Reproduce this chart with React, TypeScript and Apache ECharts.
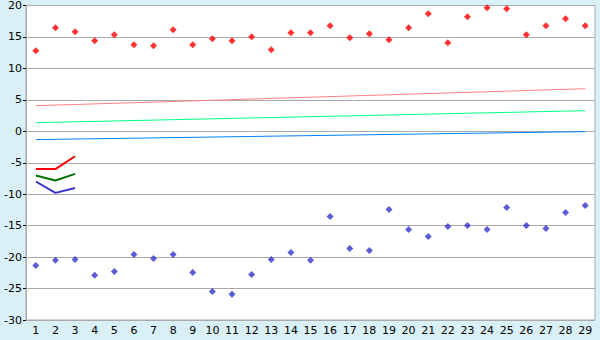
import React, { useEffect, useRef } from "react";
import * as echarts from "echarts";

const categories = Array.from({ length: 29 }, (_, i) => String(i + 1));

const redPoints = [12.8, 16.46, 15.82, 14.39, 15.34, 13.76, 13.6, 16.14, 13.76, 14.71, 14.39, 15.03, 12.97, 15.66, 15.66, 16.77, 14.87, 15.5, 14.55, 16.46, 18.68, 14.07, 18.2, 19.63, 19.47, 15.34, 16.77, 17.88, 16.77];
const bluePoints = [-21.32, -20.52, -20.37, -22.9, -22.27, -19.58, -20.21, -19.58, -22.43, -25.45, -25.92, -22.75, -20.37, -19.26, -20.52, -13.55, -18.62, -18.94, -12.43, -15.61, -16.71, -15.13, -14.97, -15.61, -12.11, -14.97, -15.45, -12.9, -11.79];

const trendPink = [4.07, 6.77];
const trendGreen = [1.37, 3.28];
const trendBlue = [-1.32, -0.05];

const shortRed = [-6.0, -6.0, -3.97];
const shortGreen = [-7.03, -7.83, -6.77];
const shortBlue = [-7.98, -9.79, -9.0];

const yTicks = { min: -30, max: 20, interval: 5 };

const font = "DejaVu Sans";

export default function App() {
  const ref = useRef<HTMLDivElement>(null);
  useEffect(() => {
    const chart = echarts.init(ref.current!, null, { renderer: "svg" });
    const trend = (vals: number[], color: string) => ({
      type: "line",
      data: [
        [categories[0], vals[0]],
        [categories[categories.length - 1], vals[1]],
      ],
      showSymbol: false,
      symbol: "none",
      lineStyle: { color, width: 1 },
      z: 2,
    });
    const short = (vals: number[], color: string) => ({
      type: "line",
      data: vals,
      showSymbol: false,
      symbol: "none",
      lineStyle: { color, width: 2 },
      z: 3,
    });
    chart.setOption({
      animation: false,
      backgroundColor: "#d9f0f6",
      grid: {
        left: 26,
        right: 5,
        top: 5,
        bottom: 20,
        show: true,
        backgroundColor: "#ffffff",
        borderColor: "#aaaaaa",
        borderWidth: 1,
      },
      xAxis: {
        type: "category",
        data: categories,
        boundaryGap: true,
        axisLine: { lineStyle: { color: "#aaaaaa" } },
        axisTick: { alignWithLabel: true, length: 4, lineStyle: { color: "#000000" } },
        axisLabel: { color: "#000", fontFamily: font, fontSize: 11, margin: 5, interval: 0 },
        splitLine: { show: false },
      },
      yAxis: {
        type: "value",
        min: yTicks.min,
        max: yTicks.max,
        interval: yTicks.interval,
        axisLine: { show: true, lineStyle: { color: "#aaaaaa" } },
        axisTick: { show: true, length: 3, lineStyle: { color: "#000000" } },
        axisLabel: { color: "#000", fontFamily: font, fontSize: 11, margin: 4 },
        splitLine: { lineStyle: { color: "#aaaaaa", width: 1 } },
      },
      series: [
        trend(trendPink, "#ff8080"),
        trend(trendGreen, "#00ff80"),
        trend(trendBlue, "#0080ff"),
        short(shortRed, "#ff0000"),
        short(shortGreen, "#007000"),
        short(shortBlue, "#3333cc"),
        {
          type: "scatter",
          data: redPoints,
          symbol: "diamond",
          symbolSize: 7,
          itemStyle: { color: "#ff0000" },
          z: 4,
        },
        {
          type: "scatter",
          data: bluePoints,
          symbol: "diamond",
          symbolSize: 7,
          itemStyle: { color: "#3333cc" },
          z: 4,
        },
      ],
    });
    return () => chart.dispose();
  }, []);
  return (
    <div
      ref={ref}
      style={{ position: "fixed", left: 0, top: 0, width: 600, height: 340 }}
    />
  );
}
